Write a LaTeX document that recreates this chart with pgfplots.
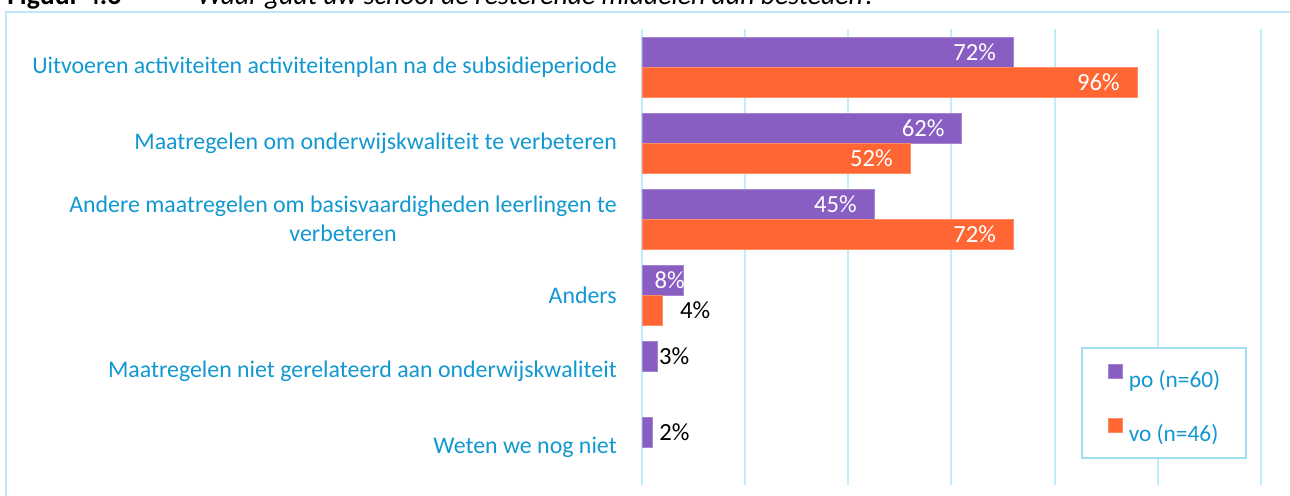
\documentclass[border=0pt]{standalone}
\usepackage{fontspec}
\setmainfont{Carlito}
\usepackage{pgfplots}
\pgfplotsset{compat=1.18}
\definecolor{po}{RGB}{137,94,194}
\definecolor{vo}{RGB}{255,102,51}
\definecolor{lblue}{RGB}{18,152,209}
\definecolor{gridc}{RGB}{192,236,252}
\definecolor{framec}{RGB}{190,232,248}
\definecolor{legc}{RGB}{160,222,244}
\begin{document}
\begin{tikzpicture}
\useasboundingbox (0,0) rectangle (967.5pt,-372pt);
\begin{scope}
\clip (0,0) rectangle (967.5pt,-372pt);
\draw[framec, line width=1.5pt] (4.5pt,-9pt) rectangle (990pt,-400pt);
\node[anchor=base west, inner sep=0pt, font=\fontsize{20.8}{24}\selectfont\bfseries] at (5.25pt,-3.75pt) {Figuur 4.6};
\node[anchor=base west, inner sep=0pt, font=\fontsize{20.8}{24}\selectfont\itshape] at (147.75pt,-3.75pt) {Waar gaat uw school de resterende middelen aan besteden?};
\begin{axis}[
  at={(481.5pt,-363.75pt)}, anchor=south west,
  scale only axis, width=464.25pt, height=342pt,
  xbar, bar width=22.5pt,
  xmin=0, xmax=120, ymin=-0.5, ymax=5.5,
  xtick={0,20,...,120}, xticklabels={},
  xmajorgrids, grid style={gridc, line width=1.5pt},
  major tick length=0pt,
  axis line style={draw=none},
  ytick={0,...,5},
  yticklabels={{Weten we nog niet},{Maatregelen niet gerelateerd aan onderwijskwaliteit},{Anders},{Andere maatregelen om basisvaardigheden leerlingen te\\verbeteren},{Maatregelen om onderwijskwaliteit te verbeteren},{Uitvoeren activiteiten activiteitenplan na de subsidieperiode}},
  yticklabel style={font=\fontsize{17.9}{21.75}\selectfont, text=lblue, align=center, inner sep=0pt, xshift=-18.75pt},
  point meta=x,
  nodes near coords={\pgfmathprintnumber{\pgfplotspointmeta}\%},
  /pgf/number format/assume math mode=true,
  every node near coord/.append style={font=\fontsize{18.5}{22}\selectfont},
  legend style={at={(0.7092,0.3026)}, anchor=north west, draw=legc, line width=1.5pt, fill=white,
    inner xsep=19.5pt, inner ysep=12pt, row sep=22.5pt,
    font=\fontsize{17.5}{21}\selectfont, text=lblue,
    nodes={inner sep=0pt, text height=13pt, text depth=0.5pt},
    /tikz/every odd column/.append style={column sep=4.5pt}},
  legend cell align=left,
  legend image code/.code={\fill[#1] (0pt,0.5pt) rectangle (10.5pt,11pt);},
]
\addplot[fill=po, draw=po!75!white, line width=0.6pt, bar shift=11.25pt, nodes near coords style={anchor=east, text=white, xshift=-12.75pt, inner sep=0pt}] coordinates {(72,5) (62,4) (45,3)};
\addlegendentry{po (n=60)}
\addplot[fill=vo, draw=vo!75!white, line width=0.6pt, bar shift=-11.25pt, nodes near coords style={anchor=east, text=white, xshift=-12.75pt, inner sep=0pt}] coordinates {(96,5) (52,4) (72,3)};
\addlegendentry{vo (n=46)}
\addplot[forget plot, fill=po, draw=po!75!white, line width=0.6pt, bar shift=11.25pt, nodes near coords style={anchor=east, text=white, xshift=1.5pt, inner sep=0pt}] coordinates {(8,2)};
\addplot[forget plot, fill=vo, draw=vo!75!white, line width=0.6pt, bar shift=-11.25pt, nodes near coords style={anchor=west, text=black, xshift=12.75pt, inner sep=0pt}] coordinates {(4,2)};
\addplot[forget plot, fill=po, draw=po!75!white, line width=0.6pt, bar shift=11.25pt, nodes near coords style={anchor=west, text=black, xshift=1pt, inner sep=0pt}] coordinates {(3,1)};
\addplot[forget plot, fill=po, draw=po!75!white, line width=0.6pt, bar shift=11.25pt, nodes near coords style={anchor=west, text=black, xshift=5pt, inner sep=0pt}] coordinates {(2,0)};
\end{axis}
\end{scope}
\end{tikzpicture}
\end{document}
